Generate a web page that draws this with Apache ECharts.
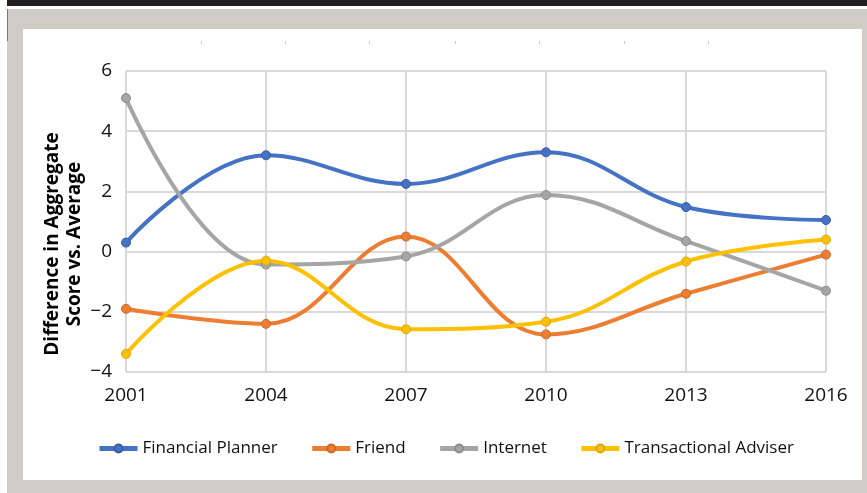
<!DOCTYPE html>
<html>
<head>
<meta charset="utf-8">
<script src="https://cdn.jsdelivr.net/npm/echarts@6/dist/echarts.min.js"></script>
<style>
  html, body { margin: 0; padding: 0; background: #fff; }
  #chart { width: 867px; height: 493px; }
</style>
</head>
<body>
<div id="chart"></div>
<script>
// data
var years = ['2001', '2004', '2007', '2010', '2013', '2016'];
var financialPlanner = [0.3, 3.2, 2.25, 3.3, 1.48, 1.05];
var friend = [-1.9, -2.4, 0.5, -2.75, -1.4, -0.1];
var internet = [5.1, -0.43, -0.16, 1.88, 0.35, -1.3];
var transactional = [-3.4, -0.3, -2.58, -2.33, -0.33, 0.4];

var font = "'Open Sans', sans-serif";

var myChart = echarts.init(document.getElementById('chart'));

function line(name, data, color, border) {
    return {
        name: name,
        type: 'line',
        data: data,
        smooth: 0.4,
        symbol: 'circle',
        symbolSize: 9,
        lineStyle: { color: color, width: 4 },
        itemStyle: { color: color, borderColor: border, borderWidth: 1 },
        z: 3
    };
}

// small grey marks above the plot
var marks = [201, 285, 369, 455, 539, 624, 708].map(function (x) {
    return { type: 'rect', shape: { x: x, y: 41, width: 1, height: 3 }, style: { fill: '#c8c8c8' }, z: -5 };
});

var option = {
    backgroundColor: '#ffffff',
    animation: false,
    textStyle: { fontFamily: font },
    graphic: [
        { type: 'rect', shape: { x: 7, y: 0, width: 860, height: 6 }, style: { fill: '#231f20' }, z: -10 },
        { type: 'rect', shape: { x: 7, y: 9, width: 860, height: 484 }, style: { fill: '#d0cbc4' }, z: -10 },
        { type: 'rect', shape: { x: 7, y: 9, width: 1, height: 32 }, style: { fill: '#777' }, z: -9 },
        { type: 'rect', shape: { x: 23, y: 29, width: 839, height: 451 }, style: { fill: '#ffffff' }, z: -9 },
        {
            type: 'text',
            x: 64, y: 244,
            rotation: Math.PI / 2,
            style: {
                text: 'Difference in Aggregate\nScore vs. Average',
                fontFamily: font,
                fontWeight: 'bold',
                fontSize: 19,
                lineHeight: 22,
                fill: '#000',
                align: 'center',
                verticalAlign: 'middle'
            }
        }
    ].concat(marks),
    grid: { left: 126, right: 41, top: 71, bottom: 121 },
    legend: {
        bottom: 31,
        left: 92,
        itemWidth: 38,
        itemHeight: 10,
        itemGap: 32,
        lineStyle: { width: 5 },
        textStyle: { fontSize: 17, color: '#111', fontFamily: font },
        data: ['Financial Planner', 'Friend', 'Internet', 'Transactional Adviser']
    },
    xAxis: {
        type: 'category',
        data: years,
        boundaryGap: false,
        axisLine: { show: false },
        axisTick: { show: false },
        axisLabel: { fontSize: 19, color: '#111', margin: 14, fontFamily: font },
        splitLine: { show: true, lineStyle: { color: '#d9d9d9', width: 2 } }
    },
    yAxis: {
        type: 'value',
        min: -4,
        max: 6,
        interval: 2,
        axisLine: { show: false },
        axisTick: { show: false },
        axisLabel: {
            fontSize: 19, color: '#111', margin: 14, fontFamily: font,
            formatter: function (v) { return v < 0 ? '\u2212' + Math.abs(v) : String(v); }
        },
        splitLine: { lineStyle: { color: '#d9d9d9', width: 2 } }
    },
    series: [
        line('Financial Planner', financialPlanner, '#4472c4', '#3b5aa8'),
        line('Friend', friend, '#ed7d31', '#c86a2c'),
        line('Internet', internet, '#a5a5a5', '#8c8c8c'),
        line('Transactional Adviser', transactional, '#ffc000', '#d9a60f')
    ]
};

myChart.setOption(option);
</script>
</body>
</html>
